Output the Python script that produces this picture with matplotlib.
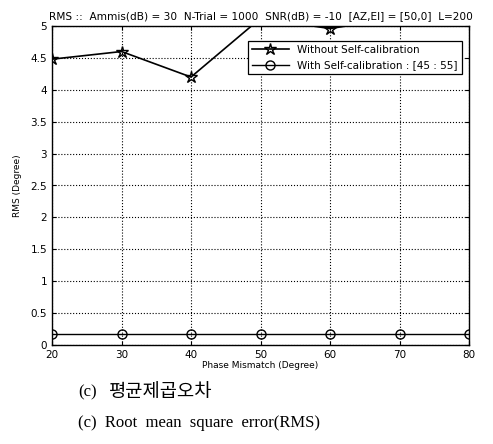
import numpy as np
import matplotlib
matplotlib.use("Agg")
import matplotlib.pyplot as plt
from matplotlib.ticker import FuncFormatter

# phase mismatch (degree)
phase = [20, 30, 40, 50, 60, 70, 80]
# RMS without self-calibration (values above 5 are clipped by the axis)
rms_without = [4.48, 4.60, 4.20, 5.12, 4.96, 5.13, 5.20]
# RMS with self-calibration
rms_with = [0.18, 0.18, 0.18, 0.18, 0.18, 0.18, 0.18]

yticks = [0, 0.5, 1, 1.5, 2, 2.5, 3, 3.5, 4, 4.5, 5]

plt.rcParams["font.family"] = ["DejaVu Sans"]

fig = plt.figure(figsize=(4.93, 4.44), dpi=100)
ax = fig.add_axes([52 / 493, 1 - 345 / 444, 417 / 493, 319 / 444])

ax.plot(phase, rms_without, color="black", lw=1.2, marker="*", ms=9,
        mfc="none", mec="black", mew=1.0, label="Without Self-calibration")
ax.plot(phase, rms_with, color="black", lw=1.0, marker="o", ms=6.5,
        mfc="none", mec="black", mew=1.0,
        label="With Self-calibration : [45 : 55]")

ax.set_xlim(20, 80)
ax.set_ylim(0, 5)
ax.set_xticks(phase)
ax.set_yticks(yticks)
ax.yaxis.set_major_formatter(FuncFormatter(lambda v, p: f"{v:g}"))
ax.tick_params(direction="in", labelsize=7.5, length=3, top=True, right=True)
ax.grid(True, color="black", linestyle=":", lw=0.8)
for s in ax.spines.values():
    s.set_linewidth(1.0)

ax.set_xlabel("Phase Mismatch (Degree)", fontsize=6.5, labelpad=1)
ax.set_ylabel("RMS (Degree)", fontsize=6.5, labelpad=6)
ax.set_title("RMS ::  Ammis(dB) = 30  N-Trial = 1000  SNR(dB) = -10  [AZ,El] = [50,0]  L=200",
             fontsize=7.6, pad=5)

leg = ax.legend(loc="upper right", bbox_to_anchor=(0.995, 0.97), fontsize=7.5,
                fancybox=False, framealpha=1, edgecolor="black",
                handlelength=3.5, borderpad=0.4, labelspacing=0.5)
leg.get_frame().set_linewidth(0.9)

serif_kr = ["Liberation Serif", "Noto Sans CJK KR"]
fig.text(78 / 493, 1 - 392 / 444, "(c)", fontsize=12,
         family=serif_kr, va="center", ha="left")
fig.text(108 / 493, 1 - 391 / 444, "평균제곱오차", fontsize=13.5,
         family=["Noto Sans CJK KR"], weight="light", va="center", ha="left")
fig.text(78 / 493, 1 - 423 / 444, "(c)  Root  mean  square  error(RMS)",
         fontsize=12, family=serif_kr, va="center", ha="left")

fig.savefig("out.png", dpi=100)
